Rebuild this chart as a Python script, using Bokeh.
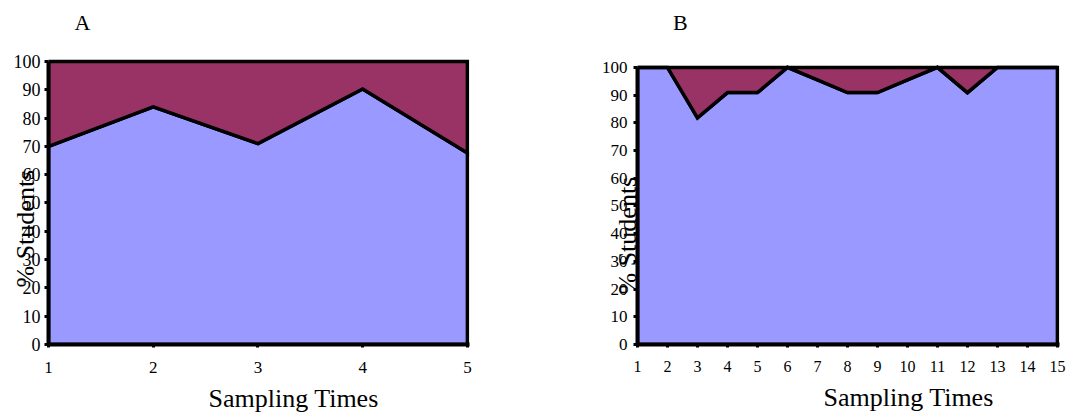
import numpy as np
from bokeh.plotting import figure
from bokeh.layouts import row
from bokeh.models import Range1d, FixedTicker, Title
from bokeh.core.properties import value
from bokeh.embed import file_html
from bokeh.resources import INLINE

# Panel A: five sampling times
times_a = [1, 2, 3, 4, 5]
yes_a = [70.0, 84.0, 71.0, 90.3, 67.7]
no_a = [30.0, 16.0, 29.0, 9.7, 32.3]

# Panel B: fifteen sampling times
times_b = list(range(1, 16))
yes_b = [100.0, 100.0, 81.8, 90.9, 90.9, 100.0, 95.5, 90.9, 90.9, 95.5,
         100.0, 90.9, 100.0, 100.0, 100.0]
no_b = [0.0, 0.0, 18.2, 9.1, 9.1, 0.0, 4.5, 9.1, 9.1, 4.5,
        0.0, 9.1, 0.0, 0.0, 0.0]

y_ticks = list(range(0, 101, 10))

BLUE = "#9999FF"
MAROON = "#993366"
SERIF = "Liberation Serif"


def panel(times, lower, upper, letter, left, right, x_pad, y_end, tick_px, y_standoff,
          x_standoff, ylab_offset, ylab_standoff, letter_xy, xlab_offset, xlab_standoff):
    p = figure(width=533, height=419, output_backend="svg", toolbar_location=None,
               x_range=Range1d(times[0], times[-1] + x_pad), y_range=Range1d(0, y_end),
               min_border_left=left, min_border_right=right,
               min_border_top=0, min_border_bottom=75)
    p.background_fill_color = "white"
    p.border_fill_color = "white"
    p.outline_line_color = None
    p.grid.visible = False

    x = np.array(times, dtype=float)
    lo = np.array(lower, dtype=float)
    hi = lo + np.array(upper, dtype=float)
    xs = np.concatenate([x, x[::-1]])

    # stacked areas: lower series on zero, upper series on top of it
    p.patch(xs, np.concatenate([lo, np.zeros_like(lo)]), fill_color=BLUE,
            line_color="black", line_width=3.5, line_join="miter")
    p.patch(xs, np.concatenate([hi, lo[::-1]]), fill_color=MAROON,
            line_color="black", line_width=3.5, line_join="miter")

    # panel letter above the plotted area
    p.text(x=[letter_xy[0]], y=[letter_xy[1]], text=[letter], text_align="center",
           text_baseline="middle", text_font=value(SERIF), text_font_size="22px",
           text_color="black")

    for ax in (p.xaxis[0], p.yaxis[0]):
        ax.axis_line_color = "black"
        ax.axis_line_width = 4
        ax.major_tick_line_color = "black"
        ax.major_tick_line_width = 3
        ax.major_tick_in = 0
        ax.minor_tick_line_color = None
        ax.major_label_text_font = SERIF
        ax.major_label_text_color = "black"

    p.xaxis.ticker = FixedTicker(ticks=list(times))
    p.xaxis.major_tick_out = 3
    p.xaxis.major_label_standoff = x_standoff
    p.xaxis.major_label_text_font_size = f"{tick_px - 1}px"

    p.yaxis.ticker = FixedTicker(ticks=y_ticks)
    p.yaxis.bounds = (0, 100)
    p.yaxis.major_tick_out = 4
    p.yaxis.major_label_standoff = y_standoff
    p.yaxis.major_label_text_font_size = f"{tick_px}px"

    # y title drawn over the tick labels
    p.add_layout(Title(text="% Students", align="left", offset=ylab_offset,
                       standoff=ylab_standoff, text_font=SERIF, text_font_size="26px",
                       text_font_style="normal", text_color="black"), "left")

    p.add_layout(Title(text="Sampling Times", align="left", offset=xlab_offset,
                       standoff=xlab_standoff, text_font=SERIF, text_font_size="26px",
                       text_font_style="normal", text_color="black"), "below")
    return p


pa = panel(times_a, yes_a, no_a, "A", 48, 64, 0.02, 121.55, 18, 4, 14,
           57, -58, (1.325, 113.8), 160, 12)
pb = panel(times_b, yes_b, no_b, "B", 104, 7, 0.07, 124.14, 17, 6, 13,
           50, -87, (2.43, 116.2), 186, 13)

layout = row(pa, pb, spacing=0)
open("out.html", "w").write(file_html(layout, INLINE))
